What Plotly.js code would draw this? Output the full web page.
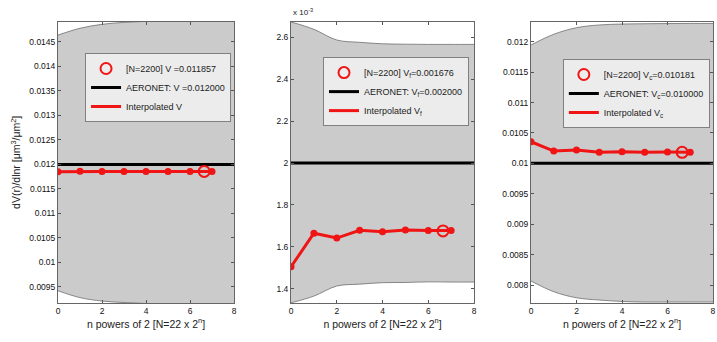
<!DOCTYPE html>
<html><head><meta charset="utf-8">
<script src="https://cdn.plot.ly/plotly-3.0.1.min.js"></script>
<style>html,body{margin:0;padding:0;background:#fff;}#chart{width:717px;height:342px;}</style>
</head><body><div id="chart"></div>
<script>
// x positions (n powers of 2)
const nPts = [0, 1, 2, 3, 4, 5, 6, 7];
const bandX = [0, 1, 2, 3, 4, 5, 6, 7, 8];
const nAtN2200 = 6.644;
const aeronetX = [0, 8];

// Panel 1: total volume V
const vInterp = [0.01185, 0.011858, 0.011857, 0.011856, 0.011857, 0.011857, 0.011857, 0.011857];
const vN2200 = 0.011857;
const vAeronet = 0.012;
const vBandUp = [0.01464, 0.01478, 0.01486, 0.01490, 0.01492, 0.01493, 0.01493, 0.01493, 0.01493];
const vBandLo = [0.00942, 0.00928, 0.00921, 0.00918, 0.00916, 0.00915, 0.00915, 0.00915, 0.00915];

// Panel 2: fine mode volume Vf
const fInterp = [0.001505, 0.001665, 0.001642, 0.001679, 0.001672, 0.001680, 0.001678, 0.001678];
const fN2200 = 0.001676;
const fAeronet = 0.002;
const fBandUp = [0.002673, 0.002638, 0.002587, 0.002576, 0.002569, 0.002567, 0.002566, 0.002566, 0.002566];
const fBandLo = [0.001333, 0.001365, 0.001413, 0.001422, 0.001429, 0.001430, 0.001433, 0.001432, 0.001432];
const fTickVals = [0.0014, 0.0016, 0.0018, 0.002, 0.0022, 0.0024, 0.0026];
const fTickText = ['1.4', '1.6', '1.8', '2', '2.2', '2.4', '2.6'];

// Panel 3: coarse mode volume Vc
const cInterp = [0.010355, 0.010202, 0.010219, 0.010181, 0.010191, 0.010181, 0.010186, 0.010183];
const cN2200 = 0.010181;
const cAeronet = 0.010;
const cBandUp = [0.011946, 0.012122, 0.01223, 0.012275, 0.01229, 0.012295, 0.012298, 0.0123, 0.0123];
const cBandLo = [0.008066, 0.00789, 0.00779, 0.007753, 0.00773, 0.00772, 0.00772, 0.00772, 0.00772];

const panels = [
  {xa:'x', ya:'y', lg:'legend', interp:vInterp, n2200:vN2200, aer:vAeronet, up:vBandUp, lo:vBandLo,
   names:['[N=2200] V =0.011857', 'AERONET: V =0.012000', 'Interpolated V']},
  {xa:'x2', ya:'y2', lg:'legend2', interp:fInterp, n2200:fN2200, aer:fAeronet, up:fBandUp, lo:fBandLo,
   names:['[N=2200] V<sub>f</sub>=0.001676', 'AERONET: V<sub>f</sub>=0.002000', 'Interpolated V<sub>f</sub>']},
  {xa:'x3', ya:'y3', lg:'legend3', interp:cInterp, n2200:cN2200, aer:cAeronet, up:cBandUp, lo:cBandLo,
   names:['[N=2200] V<sub>c</sub>=0.010181', 'AERONET: V<sub>c</sub>=0.010000', 'Interpolated V<sub>c</sub>']}
];

const red = '#f01414';
const traces = [];
panels.forEach(p => {
  traces.push({x:bandX, y:p.lo, xaxis:p.xa, yaxis:p.ya, mode:'lines', line:{color:'#6e6e6e', width:0.8, shape:'spline'}, showlegend:false, hoverinfo:'skip'});
  traces.push({x:bandX, y:p.up, xaxis:p.xa, yaxis:p.ya, mode:'lines', fill:'tonexty', fillcolor:'#cbcbcb', line:{color:'#6e6e6e', width:0.8, shape:'spline'}, showlegend:false, hoverinfo:'skip'});
  traces.push({x:aeronetX, y:[p.aer, p.aer], xaxis:p.xa, yaxis:p.ya, mode:'lines', legend:p.lg, legendrank:2, name:p.names[1],
    line:{color:'#000', width:3}});
  traces.push({x:nPts, y:p.interp, xaxis:p.xa, yaxis:p.ya, mode:'lines', legend:p.lg, legendrank:3, name:p.names[2],
    line:{color:red, width:3}});
  traces.push({x:nPts, y:p.interp, xaxis:p.xa, yaxis:p.ya, mode:'markers', showlegend:false,
    marker:{color:red, size:7}});
  traces.push({x:[nAtN2200], y:[p.n2200], xaxis:p.xa, yaxis:p.ya, mode:'markers', legend:p.lg, legendrank:1, name:p.names[0],
    marker:{symbol:'circle-open', size:11, color:red, line:{width:2, color:red}}});
});

const font = {family:'Liberation Sans, Arial, sans-serif', size:9, color:'#000'};
const xTitle = {text:'n powers of 2 [N=22 x 2<sup>n</sup>]', font:{size:10.5, family:font.family, color:'#222'}, standoff:2};
function xax(dom){ return {domain:dom, range:[0,8], dtick:2, ticks:'inside', ticklen:3, tickcolor:'#555', mirror:'ticks', showline:true, linecolor:'#666', linewidth:1, showgrid:false, zeroline:false, tickfont:{size:8.5, family:font.family, color:'#111'}, title:xTitle}; }
function yax(range, extra){ return Object.assign({domain:[0.114, 0.9357], range:range, ticks:'inside', ticklen:3, tickcolor:'#555', mirror:'ticks', showline:true, linecolor:'#666', linewidth:1, showgrid:false, zeroline:false, tickfont:{size:8.5, family:font.family, color:'#111'}}, extra||{}); }
function leg(x, y){ return {x:x, y:y, xanchor:'left', yanchor:'top', bgcolor:'#ececec', bordercolor:'#808080', borderwidth:1, font:{size:9, family:font.family, color:'#222'}, tracegroupgap:0, itemwidth:30, traceorder:'normal'}; }

const layout = {
  width:717, height:342, margin:{l:0, r:0, t:0, b:0}, paper_bgcolor:'#fff', plot_bgcolor:'#fff', font:font,
  xaxis: xax([0.0809, 0.3264]),
  xaxis2: xax([0.4059, 0.6611]),
  xaxis3: xax([0.7406, 0.9944]),
  yaxis: yax([0.00917, 0.014908], {dtick:0.0005}),
  yaxis2: yax([0.001332, 0.002673], {anchor:'x2', tickvals:fTickVals, ticktext:fTickText}),
  yaxis3: yax([0.007704, 0.012324], {anchor:'x3', dtick:0.0005}),
  legend: leg(0.1186, 0.845),
  legend2: leg(0.4505, 0.833),
  legend3: leg(0.785, 0.8275),
  annotations:[
    {xref:'paper', yref:'paper', x:0.4059, y:0.9357, xanchor:'left', yanchor:'bottom', yshift:3, showarrow:false, text:'x 10<sup>-3</sup>', font:{size:8, family:font.family, color:'#222'}},
    {xref:'paper', yref:'paper', x:0.0216, y:0.525, xanchor:'center', yanchor:'middle', textangle:-90, showarrow:false, text:'dV(r)/dlnr [μm<sup>3</sup>/μm<sup>2</sup>]', font:{size:10.5, family:font.family, color:'#222'}}
  ]
};
layout.xaxis2.anchor = 'y2';
layout.xaxis3.anchor = 'y3';
Plotly.newPlot('chart', traces, layout, {displayModeBar:false, staticPlot:true});
</script></body></html>
